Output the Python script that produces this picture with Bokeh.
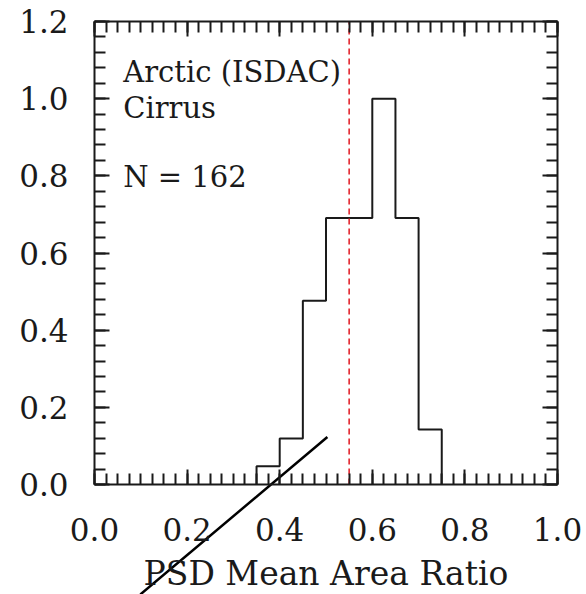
import numpy as np
from bokeh.plotting import figure
from bokeh.models import LinearAxis, FixedTicker, PrintfTickFormatter, Label, Range1d
from bokeh.embed import file_html
from bokeh.resources import INLINE

# Histogram of PSD mean area ratio, 0.05-wide bins
bin_edges = [0.35, 0.40, 0.45, 0.50, 0.55, 0.60, 0.65, 0.70, 0.75]
counts = [2, 5, 20, 29, 29, 42, 29, 6]
n_total = 162
ref_value = 0.55  # dashed reference line

# pointer line (data coordinates), runs out below the axis
pointer_x = [0.099, 0.503]
pointer_y = [-0.285, 0.123]

x_major = [0.0, 0.2, 0.4, 0.6, 0.8, 1.0]
y_major = [0.0, 0.2, 0.4, 0.6, 0.8, 1.0, 1.2]

label_lines = ["Arctic (ISDAC)", "Cirrus", f"N = {n_total}"]
label_y = [1.068, 0.975, 0.796]

SERIF = "DejaVu Serif"
INK = "#1a1a1a"

W, H = 586, 594
# axes box inside the canvas (pixels): left, right, top, bottom
BOX_L, BOX_R, BOX_T, BOX_B = 94, 557, 21, 484
x0, x1 = x_major[0], x_major[-1]
y0, y1 = y_major[0], y_major[-1]
sx = (BOX_R - BOX_L) / (x1 - x0)
sy = (BOX_B - BOX_T) / (y1 - y0)
xr = Range1d(x0 - BOX_L / sx, x1 + (W - BOX_R) / sx)
yr = Range1d(y0 - (H - BOX_B) / sy, y1 + BOX_T / sy)

p = figure(width=W, height=H, output_backend="svg", toolbar_location=None,
           x_range=xr, y_range=yr, x_axis_location=None, y_axis_location=None,
           min_border=0)
p.grid.visible = False
p.outline_line_color = None
p.background_fill_color = "white"
p.border_fill_color = "white"

x_minor = list(np.round(np.arange(x0, x1 + 1e-6, 0.025), 4))
y_minor = list(np.round(np.arange(y0, y1 + 1e-6, 0.04), 4))
xt = FixedTicker(ticks=x_major, minor_ticks=x_minor)
yt = FixedTicker(ticks=y_major, minor_ticks=y_minor)


def make_axis(ticker, bounds, loc, show_labels):
    ax = LinearAxis(ticker=ticker, bounds=bounds, fixed_location=loc)
    ax.axis_line_color = INK
    ax.axis_line_width = 2
    ax.major_tick_line_color = INK
    ax.major_tick_line_width = 2
    ax.minor_tick_line_color = INK
    ax.minor_tick_line_width = 2
    ax.major_tick_in = 15
    ax.major_tick_out = 0
    ax.minor_tick_in = 11
    ax.minor_tick_out = 0
    ax.formatter = PrintfTickFormatter(format="%.1f")
    if show_labels:
        ax.major_label_text_font = SERIF
        ax.major_label_text_font_size = "31px"
        ax.major_label_text_color = INK
    else:
        ax.major_label_text_font_size = "1px"
        ax.major_label_text_color = None
        ax.major_label_standoff = 0
    return ax


xb = make_axis(xt, (x0, x1), y0, True)
xb.major_label_standoff = 33
xb.axis_label = "PSD Mean Area Ratio"
xb.axis_label_text_font = SERIF
xb.axis_label_text_font_size = "33px"
xb.axis_label_text_font_style = "normal"
xb.axis_label_text_color = INK
xb.axis_label_standoff = 10
p.add_layout(xb, "below")

yl = make_axis(yt, (y0, y1), x0, True)
yl.major_label_standoff = 26
p.add_layout(yl, "left")

p.add_layout(make_axis(xt, (x0, x1), y1, False), "above")
p.add_layout(make_axis(yt, (y0, y1), x1, False), "right")

# normalised histogram outline
heights = np.array(counts) / max(counts)
step_x = [bin_edges[0]] + list(bin_edges)
step_y = [0.0] + list(heights) + [0.0]
p.step(step_x, step_y, mode="after", line_color=INK, line_width=2)

# dashed reference value
p.line([ref_value, ref_value], [y0, y1], line_color="#e3262e",
       line_dash="6 4", line_width=1.6)

for txt, yy in zip(label_lines, label_y):
    p.add_layout(Label(x=0.062, y=yy, text=txt, text_font=SERIF,
                       text_font_size="29px", text_color=INK,
                       text_baseline="alphabetic"))

# straight pointer crossing the bottom axis
p.line(pointer_x, pointer_y, line_color="black", line_width=2.5)

open("out.html", "w").write(file_html(p, INLINE))
